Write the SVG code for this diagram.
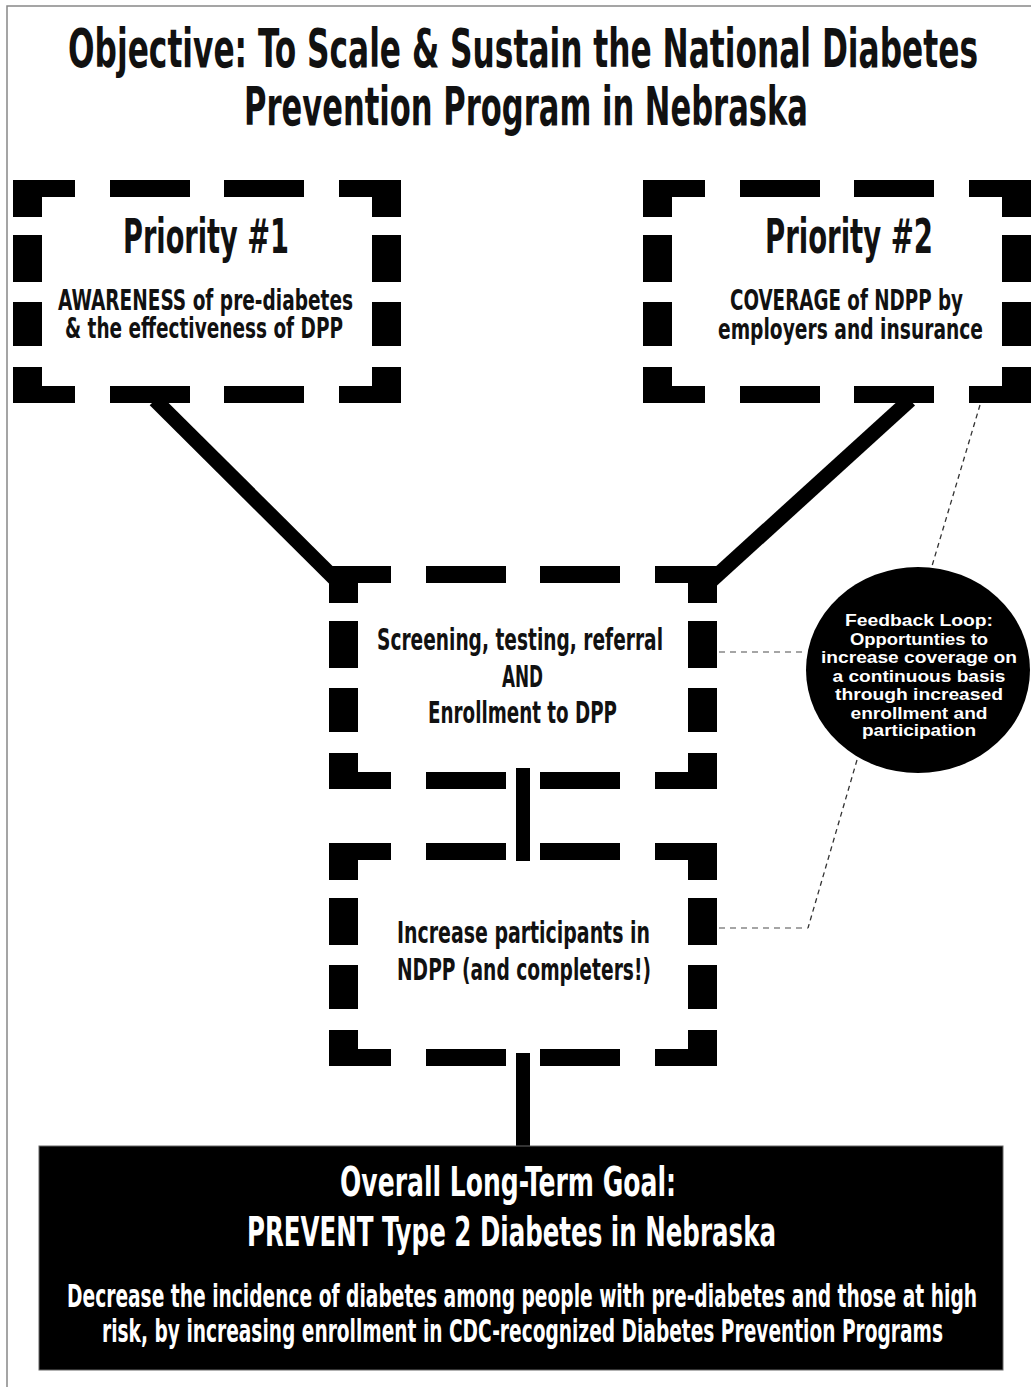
<svg xmlns="http://www.w3.org/2000/svg" xmlns:xlink="http://www.w3.org/1999/xlink" width="1031" height="1387" viewBox="0 0 1031 1387">
<style>
.cond{font-family:"Liberation Sans Narrow","DejaVu Sans Condensed","Roboto",sans-serif;font-weight:bold;font-stretch:condensed;fill:#111}
.wht{fill:#fff}
.fb{font-family:"Liberation Sans",Arial,sans-serif;font-weight:bold;font-size:16px;fill:#fff;text-anchor:middle}
.thick{stroke:#000;stroke-width:15;fill:none}
.bar{fill:#000}
.dl{stroke:#333;stroke-width:1.3;stroke-dasharray:5 4;fill:none}
.dh{stroke:#888;stroke-width:1.5;stroke-dasharray:6 5;fill:none}
.frame{stroke:#888;stroke-width:1.5;fill:none}
</style>
<defs>
<path id="dbox" fill="#000" d="M0,0 H62 V17 H29 V37 H0 Z M97,0 H177 V17 H97 Z M211,0 H291 V17 H211 Z M388,0 V37 H359 V17 H326 V0 Z M0,55 H29 V102 H0 Z M0,122 H29 V166 H0 Z M359,55 H388 V102 H359 Z M359,122 H388 V166 H359 Z M0,223 V187 H29 V206 H62 V223 Z M97,206 H177 V223 H97 Z M211,206 H291 V223 H211 Z M388,223 V187 H359 V206 H326 V223 Z"/>
</defs>
<rect x="0" y="0" width="1031" height="1387" fill="#fff"/>
<path class="frame" d="M7,1387 V6 H1031"/>

<g id="title">
<text class="cond" x="68" y="67" font-size="54" textLength="910" lengthAdjust="spacingAndGlyphs">Objective: To Scale &amp; Sustain the National Diabetes</text>
<text class="cond" x="244" y="125" font-size="54" textLength="564" lengthAdjust="spacingAndGlyphs">Prevention Program in Nebraska</text>
</g>

<g id="connectors">
<line class="thick" x1="155" y1="400" x2="336" y2="580"/>
<line class="thick" x1="910" y1="400" x2="712" y2="580"/>
<rect class="bar" x="516" y="768" width="14" height="93"/>
<rect class="bar" x="516" y="1053" width="14" height="94"/>
<polyline class="dl" points="980,405 932,566"/>
<line class="dh" x1="719" y1="652" x2="806" y2="652"/>
<polyline class="dl" points="857,760 808,928"/>
<line class="dh" x1="719" y1="928" x2="808" y2="928"/>
</g>

<g id="priority1">
<use xlink:href="#dbox" x="13" y="180"/>
<text class="cond" x="123" y="253" font-size="48" textLength="166" lengthAdjust="spacingAndGlyphs">Priority #1</text>
<text class="cond" x="58" y="310" font-size="28.5" textLength="295" lengthAdjust="spacingAndGlyphs">AWARENESS of pre-diabetes</text>
<text class="cond" x="65" y="338" font-size="28.5" textLength="278" lengthAdjust="spacingAndGlyphs">&amp; the effectiveness of DPP</text>
</g>

<g id="priority2">
<use xlink:href="#dbox" x="643" y="180"/>
<text class="cond" x="765" y="253" font-size="48" textLength="168" lengthAdjust="spacingAndGlyphs">Priority #2</text>
<text class="cond" x="730" y="310" font-size="28.5" textLength="233" lengthAdjust="spacingAndGlyphs">COVERAGE of NDPP by</text>
<text class="cond" x="718" y="339" font-size="28.5" textLength="265" lengthAdjust="spacingAndGlyphs">employers and insurance</text>
</g>

<g id="screening">
<use xlink:href="#dbox" x="329" y="566"/>
<text class="cond" x="377" y="650" font-size="31" textLength="286" lengthAdjust="spacingAndGlyphs">Screening, testing, referral</text>
<text class="cond" x="502" y="687" font-size="31" textLength="41" lengthAdjust="spacingAndGlyphs">AND</text>
<text class="cond" x="428" y="723" font-size="31" textLength="189" lengthAdjust="spacingAndGlyphs">Enrollment to DPP</text>
</g>

<g id="participants">
<use xlink:href="#dbox" x="329" y="843"/>
<text class="cond" x="397" y="943" font-size="31" textLength="253" lengthAdjust="spacingAndGlyphs">Increase participants in</text>
<text class="cond" x="397" y="980" font-size="31" textLength="254" lengthAdjust="spacingAndGlyphs">NDPP (and completers!)</text>
</g>

<g id="feedback">
<ellipse cx="918" cy="670" rx="112" ry="103" fill="#000"/>
<text class="fb" x="919" y="626" textLength="148" lengthAdjust="spacingAndGlyphs">Feedback Loop:</text>
<text class="fb" x="919" y="644.5" textLength="138" lengthAdjust="spacingAndGlyphs">Opportunties to</text>
<text class="fb" x="919" y="663" textLength="196" lengthAdjust="spacingAndGlyphs">increase coverage on</text>
<text class="fb" x="919" y="681.5" textLength="173" lengthAdjust="spacingAndGlyphs">a continuous basis</text>
<text class="fb" x="919" y="700" textLength="168" lengthAdjust="spacingAndGlyphs">through increased</text>
<text class="fb" x="919" y="718.5" textLength="137" lengthAdjust="spacingAndGlyphs">enrollment and</text>
<text class="fb" x="919" y="736" textLength="114" lengthAdjust="spacingAndGlyphs">participation</text>
</g>

<g id="goal">
<rect x="39" y="1146" width="964" height="224" fill="#000" stroke="#666" stroke-width="1"/>
<text class="cond wht" x="340" y="1196" font-size="40" textLength="336" lengthAdjust="spacingAndGlyphs">Overall Long-Term Goal:</text>
<text class="cond wht" x="247" y="1246" font-size="40" textLength="529" lengthAdjust="spacingAndGlyphs">PREVENT Type 2 Diabetes in Nebraska</text>
<text class="cond wht" x="67" y="1307" font-size="31.5" textLength="910" lengthAdjust="spacingAndGlyphs">Decrease the incidence of diabetes among people with pre-diabetes and those at high</text>
<text class="cond wht" x="102" y="1342" font-size="31.5" textLength="841" lengthAdjust="spacingAndGlyphs">risk, by increasing enrollment in CDC-recognized Diabetes Prevention Programs</text>
</g>
</svg>
